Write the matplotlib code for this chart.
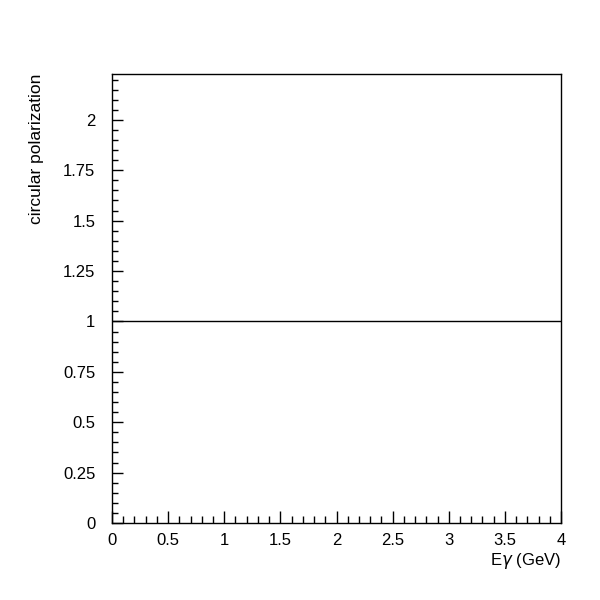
import matplotlib.pyplot as plt
import numpy as np
from matplotlib.ticker import MultipleLocator

plt.rcParams['font.family'] = ['Liberation Sans', 'DejaVu Sans']

# photon energy (GeV) and circular polarization
energie = [0.0, 4.0]
polarisasjon = [1.0, 1.0]

fig = plt.figure(figsize=(6, 6), dpi=100)
ax = fig.add_axes([0.1867, 0.1283, 0.7483, 0.7484])

ax.plot(energie, polarisasjon, color="black", lw=1)

ax.set_xlim(0, 4)
ax.set_ylim(0, 2.2275)

ax.xaxis.set_major_locator(MultipleLocator(0.5))
ax.xaxis.set_minor_locator(MultipleLocator(0.1))
ax.yaxis.set_major_locator(MultipleLocator(0.25))
ax.yaxis.set_minor_locator(MultipleLocator(0.05))
ax.xaxis.set_major_formatter(plt.FuncFormatter(lambda v, p: f"{v:g}"))
ax.yaxis.set_major_formatter(plt.FuncFormatter(lambda v, p: f"{v:g}"))

ax.tick_params(which="both", direction="in", top=False, right=False, width=1, labelsize=12)
ax.tick_params(axis="x", which="major", length=9, pad=7)
ax.tick_params(axis="x", which="minor", length=5)
ax.tick_params(axis="y", which="major", length=8, pad=12)
ax.tick_params(axis="y", which="minor", length=4)

for s in ax.spines.values():
    s.set_linewidth(1)

ax.set_xlabel("E$\\gamma$ (GeV)", fontsize=12, loc="right", labelpad=2)
ax.set_ylabel("circular polarization", fontsize=12.5, loc="top", labelpad=14)

fig.savefig("out.png", dpi=100)
